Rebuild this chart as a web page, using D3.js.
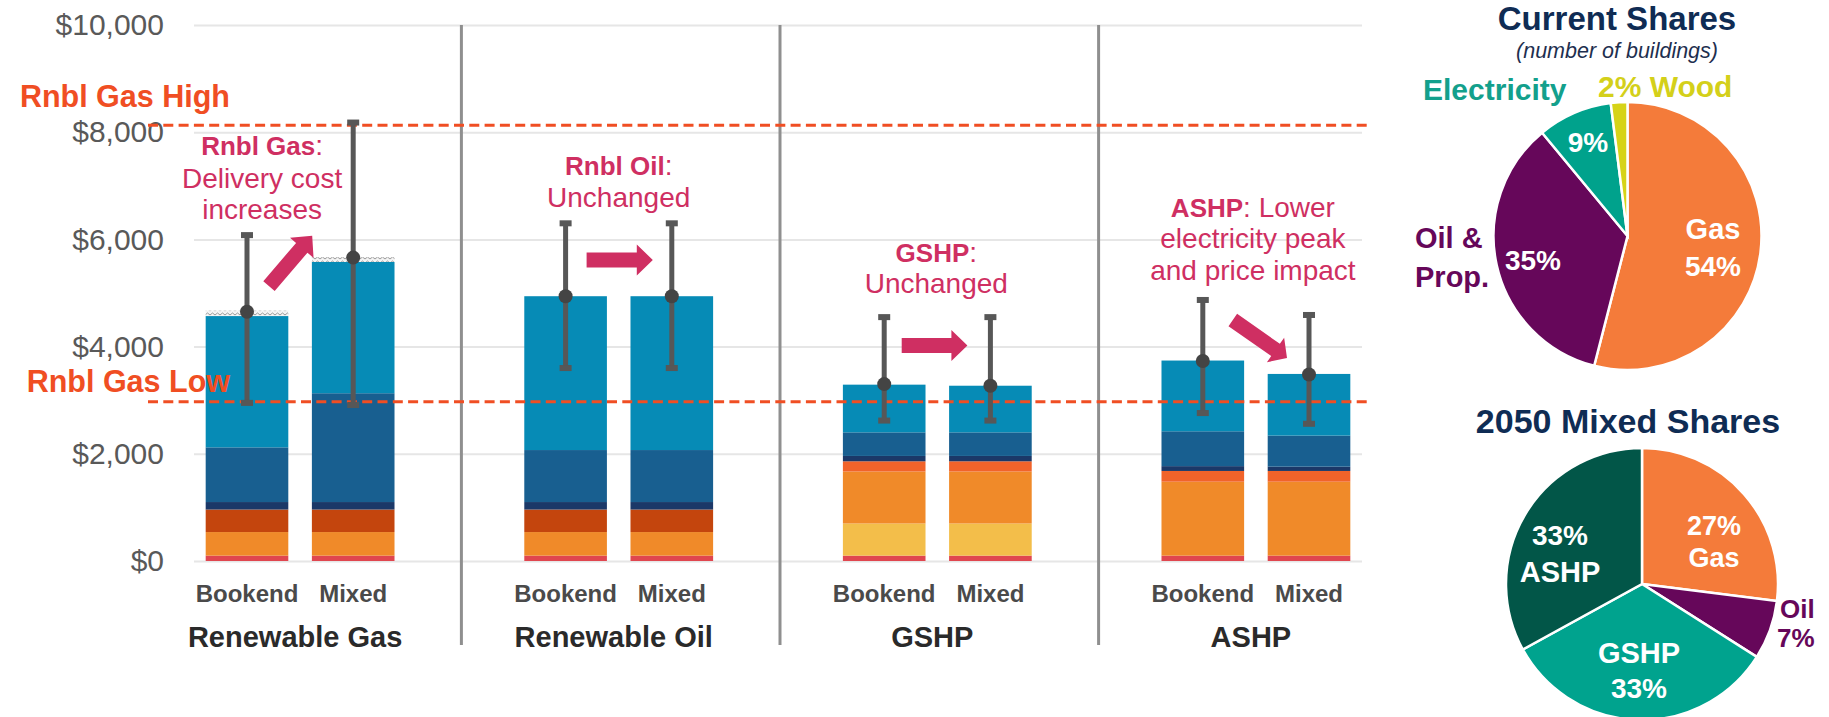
<!DOCTYPE html>
<html><head><meta charset="utf-8">
<script src="https://cdn.jsdelivr.net/npm/d3@7"></script>
<style>
body{margin:0;background:#fff;}
svg{display:block;font-family:"Liberation Sans",Arial,sans-serif;}
</style></head><body>
<svg id="chart" width="1829" height="717"></svg>
<script>
// ---------------- DATA ----------------
const groups = ["Renewable Gas","Renewable Oil","GSHP","ASHP"];
const scenarios = ["Bookend","Mixed"];
const barGroup    = ["Renewable Gas","Renewable Gas","Renewable Oil","Renewable Oil","GSHP","GSHP","ASHP","ASHP"];
const barScenario = ["Bookend","Mixed","Bookend","Mixed","Bookend","Mixed","Bookend","Mixed"];

// stacked cost components (bottom -> top), $ per building
const red        = [100,100,100,100,100,100,100,100];
const yellow     = [0,0,0,0,600,600,0,0];
const orange     = [440,440,440,440,970,970,1380,1380];
const darkOrange = [420,420,420,420,0,0,0,0];
const orangeRed  = [0,0,0,0,190,190,200,200];
const navy       = [140,140,140,140,100,100,90,80];
const darkBlue   = [1020,2030,970,970,440,440,650,580];
const lightBlue  = [2450,2450,2870,2870,890,870,1320,1150];
const hatch      = [100,90,0,0,0,0,0,0];

const meanCost = [4650,5660,4940,4940,3300,3270,3730,3480];
const errHigh  = [6080,8180,6300,6300,4550,4550,4870,4590];
const errLow   = [2950,2910,3600,3600,2620,2620,2760,2560];

const yTicks = [0,2000,4000,6000,8000,10000];
const refLabels = ["Rnbl Gas High","Rnbl Gas Low"];
const refValues = [8130,2970];

const currentLabels = ["Gas","Oil & Prop.","Electricity","Wood"];
const currentShares = [54,35,9,2];
const mixedLabels = ["Gas","Oil","GSHP","ASHP"];
const mixedShares = [27,7,33,33];

// ---------------- STYLE ----------------
const seriesKeys = ["red","yellow","orange","darkOrange","orangeRed","navy","darkBlue","lightBlue","hatch"];
const seriesVals = {red,yellow,orange,darkOrange,orangeRed,navy,darkBlue,lightBlue,hatch};
const seriesColor = {red:"#e0464f",yellow:"#f3be4a",orange:"#f08a29",darkOrange:"#c4450d",
  orangeRed:"#f1632a",navy:"#1b3868",darkBlue:"#185f90",lightBlue:"#068bb6",hatch:"url(#hatchPat)"};
const annoColor = "#cf2f62";
const refColor = "#f04e23";

const svg = d3.select("#chart");
const defs = svg.append("defs");
const pat = defs.append("pattern").attr("id","hatchPat").attr("width",5).attr("height",4)
  .attr("patternUnits","userSpaceOnUse");
pat.append("rect").attr("width",5).attr("height",4).attr("fill","#f4f4f4");
pat.append("path").attr("d","M0,3 L2.5,1 L5,3").attr("stroke","#9a9a9a").attr("stroke-width",1).attr("fill","none");

// slots: Bookend, Mixed, gap, ...
const slots = [];
groups.forEach((g,i)=>{ scenarios.forEach(s=>slots.push(g+"|"+s)); if(i<groups.length-1) slots.push("gap"+i); });
const x = d3.scaleBand().domain(slots).range([194,1362]).paddingInner(0.222).paddingOuter(0.11);
const y = d3.scaleLinear().domain([0,10000]).range([561,25]);
const bw = x.bandwidth();
const cx = i => x(barGroup[i]+"|"+barScenario[i]) + bw/2;
const gcx = g => (x(g+"|Bookend") + x(g+"|Mixed") + bw)/2;

// gridlines
svg.append("g").attr("transform","translate(194,0)")
  .call(d3.axisLeft(y).tickValues(yTicks).tickSize(-(1362-194)).tickFormat(""))
  .call(g=>g.select(".domain").remove())
  .call(g=>g.selectAll(".tick line").attr("stroke","#e6e6e6").attr("stroke-width",2));
// y axis labels
svg.append("g").attr("transform","translate(194,0)")
  .call(d3.axisLeft(y).tickValues(yTicks).tickSize(0).tickPadding(30).tickFormat(d3.format("$,")))
  .call(g=>g.select(".domain").remove())
  .call(g=>g.selectAll("text").attr("font-size",30).attr("fill","#595959").attr("font-family","'Liberation Sans',Arial,sans-serif"));

// separators
for(let i=0;i<groups.length-1;i++){
  const sx = x("gap"+i) + bw/2 + 2;
  svg.append("line").attr("x1",sx).attr("x2",sx).attr("y1",y(10000)).attr("y2",645)
    .attr("stroke","#8f8f8f").attr("stroke-width",3);
}

// stacked bars
const rows = barGroup.map((g,i)=>{ const r={slot:g+"|"+barScenario[i]}; seriesKeys.forEach(k=>r[k]=seriesVals[k][i]); return r; });
const stack = d3.stack().keys(seriesKeys)(rows);
svg.append("g").selectAll("g").data(stack).join("g")
  .attr("fill",d=>seriesColor[d.key])
  .selectAll("rect").data(d=>d.filter(v=>v[1]-v[0]>0)).join("rect")
  .attr("x",d=>x(d.data.slot)).attr("width",bw)
  .attr("y",d=>y(d[1])).attr("height",d=>y(d[0])-y(d[1]));

// reference dashed lines
refValues.forEach((v,i)=>{
  svg.append("line").attr("x1",148).attr("x2",1372).attr("y1",y(v)).attr("y2",y(v))
    .attr("stroke",refColor).attr("stroke-width",3).attr("stroke-dasharray","10,5.3");
});

// error bars
const eb = svg.append("g");
meanCost.forEach((m,i)=>{
  const c = cx(i);
  eb.append("line").attr("x1",c).attr("x2",c).attr("y1",y(errHigh[i])).attr("y2",y(errLow[i]))
    .attr("stroke","#575757").attr("stroke-width",5);
  [errHigh[i],errLow[i]].forEach(v=>eb.append("rect").attr("x",c-6).attr("width",12)
    .attr("y",y(v)-3).attr("height",6).attr("fill","#575757"));
  eb.append("circle").attr("cx",c).attr("cy",y(m)).attr("r",7).attr("fill","#444");
});

// ref labels
svg.append("text").attr("x",230).attr("y",y(refValues[0])-18).attr("text-anchor","end")
  .attr("font-size",30.5).attr("font-weight",700).attr("fill",refColor).text(refLabels[0]);
svg.append("text").attr("x",230).attr("y",y(refValues[1])-10).attr("text-anchor","end")
  .attr("font-size",30.5).attr("font-weight",700).attr("fill",refColor).text(refLabels[1]);

// x labels
barGroup.forEach((g,i)=>{
  svg.append("text").attr("x",cx(i)).attr("y",602).attr("text-anchor","middle")
    .attr("font-size",24).attr("font-weight",700).attr("fill","#4a4a4a").text(barScenario[i]);
});
groups.forEach(g=>{
  svg.append("text").attr("x",gcx(g)-5).attr("y",647).attr("text-anchor","middle")
    .attr("font-size",29).attr("font-weight",700).attr("fill","#2a2a2a").text(g);
});

// annotations
function anno(xc, lines){
  const t = svg.append("text").attr("text-anchor","middle").attr("fill",annoColor).attr("font-size",28);
  lines.forEach(l=>{
    const ln = t.append("tspan").attr("x",xc).attr("y",l.y);
    if(l.bold) ln.append("tspan").attr("font-weight",700).attr("font-size",26).text(l.bold);
    if(l.text) ln.append("tspan").text(l.text);
  });
}
anno(gcx("Renewable Gas")-38,[{y:155,bold:"Rnbl Gas",text:":"},{y:188,text:"Delivery cost"},{y:219,text:"increases"}]);
anno(gcx("Renewable Oil"),[{y:175,bold:"Rnbl Oil",text:":"},{y:207,text:"Unchanged"}]);
anno(gcx("GSHP")-1,[{y:262,bold:"GSHP",text:":"},{y:293,text:"Unchanged"}]);
anno(gcx("ASHP")-3,[{y:217,bold:"ASHP",text:": Lower"},{y:248,text:"electricity peak"},{y:280,text:"and price impact"}]);

// arrows
function arrow(x0,y0,x1,y1,sw=15,hw=31,hl=16){
  const dx=x1-x0, dy=y1-y0, L=Math.hypot(dx,dy), ux=dx/L, uy=dy/L, px=-uy, py=ux;
  const pts=[[0,-sw/2],[L-hl,-sw/2],[L-hl,-hw/2],[L,0],[L-hl,hw/2],[L-hl,sw/2],[0,sw/2]]
    .map(([a,b])=>[x0+ux*a+px*b, y0+uy*a+py*b]);
  svg.append("path").attr("d",d3.line()(pts)+"Z").attr("fill",annoColor);
}
arrow(cx(0)+22,y(5130),cx(1)-41,y(6070));
arrow(cx(2)+21,y(5616),cx(3)-19,y(5616));
arrow(cx(4)+17.5,y(4020),cx(5)-23,y(4020));
arrow(cx(6)+30,y(4496),cx(7)-22,y(3787),15,30,14);

// ---------------- PIES ----------------
function pie(cxp, cyp, r, shares, colors){
  const arcs = d3.pie().sort(null)(shares);
  const arc = d3.arc().innerRadius(0).outerRadius(r);
  svg.append("g").attr("transform",`translate(${cxp},${cyp})`)
    .selectAll("path").data(arcs).join("path").attr("d",arc)
    .attr("fill",(d,i)=>colors[i]).attr("stroke","#fff").attr("stroke-width",2.5);
}
function label(xp, yp, txt, fill, size, anchor="middle", weight=700, style="normal"){
  svg.append("text").attr("x",xp).attr("y",yp).attr("text-anchor",anchor).attr("fill",fill)
    .attr("font-size",size).attr("font-weight",weight).attr("font-style",style).text(txt);
}
const navyT = "#0f2c54";
const p1 = {x:1627.5, y:236, r:134};
pie(p1.x,p1.y,p1.r,currentShares,["#f47b3a","#66075a","#00a28c","#d6d318"]);
label(1617,30,"Current Shares",navyT,33);
label(1617,58,"(number of buildings)","#1e2f4f",21.5,"middle",400,"italic");
label(1423,100,currentLabels[2],"#13a08c",30,"start");
label(1598,97,currentShares[3]+"% "+currentLabels[3],"#d4d01a",30,"start");
label(1415,248,"Oil &","#66075a",29,"start");
label(1415,287,"Prop.","#66075a",29,"start");
label(p1.x+85.5,p1.y+3,currentLabels[0],"#fff",29);
label(p1.x+85.5,p1.y+40,currentShares[0]+"%","#fff",28);
label(p1.x-94.5,p1.y+34,currentShares[1]+"%","#fff",28);
label(p1.x-39.5,p1.y-84,currentShares[2]+"%","#fff",28);

const p2 = {x:1642, y:584, r:136};
pie(p2.x,p2.y,p2.r,mixedShares,["#f47b3a","#66075a","#00a38e","#025648"]);
label(1628,433,"2050 Mixed Shares",navyT,34);
label(p2.x+72,p2.y-49,mixedShares[0]+"%","#fff",27);
label(p2.x+72,p2.y-17,mixedLabels[0],"#fff",27);
label(p2.x-82,p2.y-39,mixedShares[3]+"%","#fff",28);
label(p2.x-82,p2.y-2,mixedLabels[3],"#fff",29);
label(p2.x-3,p2.y+79,mixedLabels[2],"#fff",29);
label(p2.x-3,p2.y+114,mixedShares[2]+"%","#fff",28);
label(1780,618,mixedLabels[1],"#66075a",26,"start");
label(1777,647,mixedShares[1]+"%","#66075a",26,"start");
</script></body></html>
